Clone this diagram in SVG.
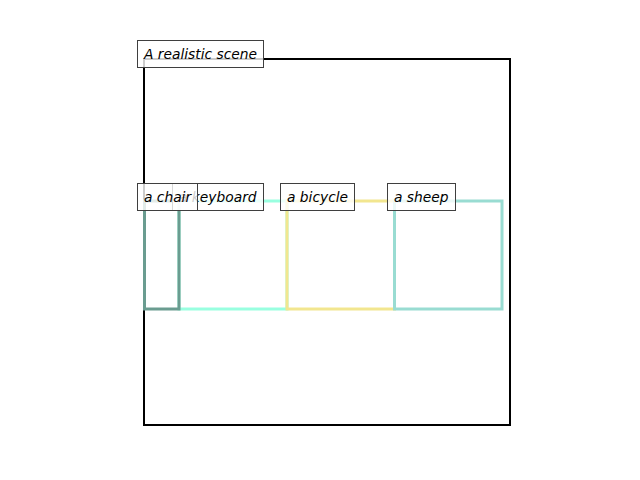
<svg xmlns="http://www.w3.org/2000/svg" width="640" height="480" viewBox="0 0 640 480">
<style>
.lbl{font-family:"DejaVu Sans",sans-serif;font-style:oblique;font-size:13.8px;fill:#000}
.lb{fill:#fff;fill-opacity:0.8;stroke:#3f3f3f;stroke-width:1}
.bx{fill:none;stroke-width:3}
</style>
<rect width="640" height="480" fill="#fff"/>
<g id="frame"><rect x="144" y="59" width="366" height="366" fill="none" stroke="#000" stroke-width="2"/></g>
<g id="connectors"></g>
<g id="keyboard"><rect class="bx" x="179" y="201" width="108" height="108" stroke="#99ffe0"/></g>
<g id="bicycle"><rect class="bx" x="287" y="201" width="107.5" height="108" stroke="#f2e68f"/></g>
<g id="sheep"><rect class="bx" x="394.5" y="201" width="107.5" height="108" stroke="#99dcd2"/></g>
<g id="chair"><rect class="bx" x="144.5" y="201" width="34.5" height="108" stroke="#6a9c90"/></g>
<g id="title"><rect class="lb" x="137.5" y="40.5" width="126" height="27"/><text class="lbl" x="144" y="58.5">A realistic scene</text></g>
<g id="label-keyboard"><rect class="lb" x="172.5" y="183.5" width="91" height="27"/><text class="lbl" x="179" y="201.5">a keyboard</text></g>
<g id="label-chair"><rect class="lb" x="137.5" y="183.5" width="60" height="27"/><text class="lbl" x="144" y="201.5">a chair</text></g>
<g id="label-bicycle"><rect class="lb" x="280.5" y="183.5" width="74" height="27"/><text class="lbl" x="287" y="201.5">a bicycle</text></g>
<g id="label-sheep"><rect class="lb" x="387.5" y="183.5" width="68" height="27"/><text class="lbl" x="394" y="201.5">a sheep</text></g>
</svg>
